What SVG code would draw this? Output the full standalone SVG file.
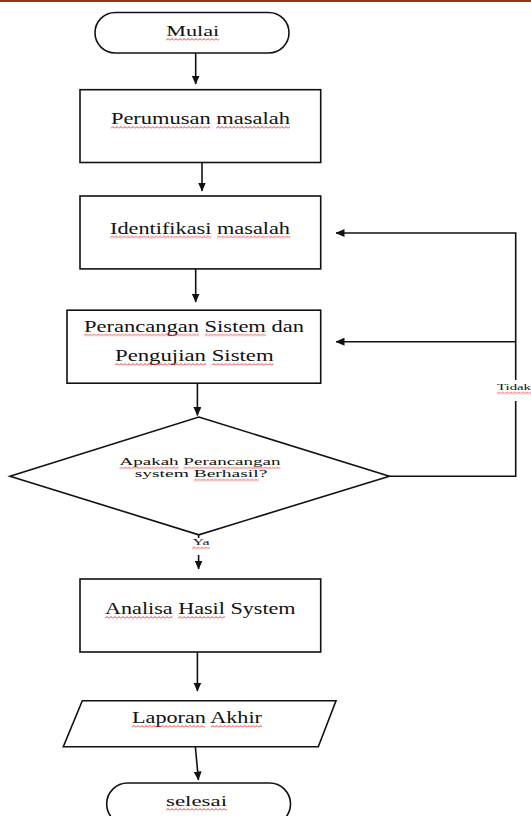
<svg xmlns="http://www.w3.org/2000/svg" width="531" height="816" viewBox="0 0 531 816">
<style>
  .shape { fill: #ffffff; stroke: #111111; stroke-width: 1.6; }
  .conn { fill: none; stroke: #111111; stroke-width: 1.6; }
  .t { font-family: "Liberation Serif", "Times New Roman", serif; fill: #111111; text-anchor: middle; }
  .big { font-size: 17.5px; }
  .mid { font-size: 15.5px; }
  .small { font-size: 10.5px; }
  .tiny { font-size: 8.5px; }
  .wave { fill: url(#wave); }
</style>
<defs>
  <marker id="arrow" markerUnits="userSpaceOnUse" markerWidth="9" markerHeight="8" refX="8.5" refY="4" orient="auto">
    <path d="M0,0 L9,4 L0,8 z" fill="#111111"/>
  </marker>
  <pattern id="wave" patternUnits="userSpaceOnUse" width="4" height="3">
    <path d="M0,2.5 L2,0.5 L4,2.5" fill="none" stroke="#e02020" stroke-width="0.9"/>
  </pattern>
</defs>

<rect x="0" y="0" width="531" height="2" fill="#8b3a0e"/>

<g id="connectors">
  <line class="conn" x1="195.7" y1="53" x2="195.7" y2="84" marker-end="url(#arrow)"/>
  <line class="conn" x1="202" y1="162.5" x2="202" y2="191" marker-end="url(#arrow)"/>
  <line class="conn" x1="195.7" y1="269" x2="195.7" y2="302" marker-end="url(#arrow)"/>
  <line class="conn" x1="197.4" y1="383" x2="197.4" y2="415.5" marker-end="url(#arrow)"/>
  <line class="conn" x1="198.6" y1="535" x2="198.6" y2="569" marker-end="url(#arrow)"/>
  <line class="conn" x1="197.4" y1="652" x2="197.4" y2="691" marker-end="url(#arrow)"/>
  <line class="conn" x1="195.4" y1="747" x2="198.4" y2="780" marker-end="url(#arrow)"/>
  <polyline class="conn" points="389.4,476.2 515.7,476.2 515.7,233 336,233" marker-end="url(#arrow)"/>
  <line class="conn" x1="515.7" y1="341.7" x2="336" y2="341.7" marker-end="url(#arrow)"/>
  <rect x="494" y="380" width="37" height="21" fill="#ffffff"/>
  <text class="t tiny" x="497" y="390" style="text-anchor:start" textLength="34" lengthAdjust="spacingAndGlyphs">Tidak</text>
  <rect x="188" y="538" width="26" height="17" fill="#ffffff"/>
  <text class="t tiny" x="201" y="545" textLength="17" lengthAdjust="spacingAndGlyphs">Ya</text>
</g>

<g id="mulai">
  <rect class="shape" x="95" y="12.5" width="194" height="40.5" rx="20.25"/>
  <text class="t mid" x="192.7" y="36" textLength="53" lengthAdjust="spacingAndGlyphs">Mulai</text>
</g>

<g id="perumusan">
  <rect class="shape" x="80" y="89.7" width="240.7" height="72.8"/>
  <text class="t big" x="200.4" y="124" textLength="179" lengthAdjust="spacingAndGlyphs">Perumusan masalah</text>
</g>

<g id="identifikasi">
  <rect class="shape" x="80" y="196" width="240.7" height="72.9"/>
  <text class="t big" x="200" y="233.5" textLength="180" lengthAdjust="spacingAndGlyphs">Identifikasi masalah</text>
</g>

<g id="perancangan">
  <rect class="shape" x="67" y="310.2" width="253.7" height="73"/>
  <text class="t big" x="194" y="331.5" textLength="220" lengthAdjust="spacingAndGlyphs">Perancangan Sistem dan</text>
  <text class="t big" x="194.3" y="361" textLength="158.6" lengthAdjust="spacingAndGlyphs">Pengujian Sistem</text>
</g>

<g id="keputusan">
  <polygon class="shape" points="198.8,417 389.4,476.2 198.8,534.8 10,476.2"/>
  <text class="t small" x="200" y="465" textLength="161" lengthAdjust="spacingAndGlyphs">Apakah Perancangan</text>
  <text class="t small" x="201" y="477" textLength="132.7" lengthAdjust="spacingAndGlyphs">system Berhasil?</text>
</g>

<g id="analisa">
  <rect class="shape" x="80" y="579" width="240.7" height="73"/>
  <text class="t big" x="200.3" y="614" textLength="190.6" lengthAdjust="spacingAndGlyphs">Analisa Hasil System</text>
</g>

<g id="laporan">
  <polygon class="shape" points="82.3,700.7 336,700.7 318.3,746.8 63.3,746.8"/>
  <text class="t big" x="197" y="723" textLength="130" lengthAdjust="spacingAndGlyphs">Laporan Akhir</text>
</g>

<g id="selesai">
  <rect class="shape" x="106.7" y="783" width="183.8" height="42" rx="21"/>
  <text class="t mid" x="196.5" y="806" textLength="61" lengthAdjust="spacingAndGlyphs">selesai</text>
</g>

<g id="spellcheck-underlines">
  <rect class="wave" transform="translate(166,38)" width="53.5" height="3"/>
  <rect class="wave" transform="translate(110.7,126)" width="99.8" height="3"/>
  <rect class="wave" transform="translate(216,126)" width="74" height="3"/>
  <rect class="wave" transform="translate(110,235.5)" width="101.4" height="3"/>
  <rect class="wave" transform="translate(217,235.5)" width="73.5" height="3"/>
  <rect class="wave" transform="translate(84,333.5)" width="115" height="3"/>
  <rect class="wave" transform="translate(204.6,333.5)" width="61.3" height="3"/>
  <rect class="wave" transform="translate(115,363)" width="91" height="3"/>
  <rect class="wave" transform="translate(211.7,363)" width="61.9" height="3"/>
  <rect class="wave" transform="translate(119.5,466.5)" width="59.1" height="3"/>
  <rect class="wave" transform="translate(183.4,466.5)" width="97" height="3"/>
  <rect class="wave" transform="translate(193.8,478.5)" width="65" height="3"/>
  <rect class="wave" transform="translate(192,546.5)" width="18" height="3"/>
  <rect class="wave" transform="translate(497,391.5)" width="34" height="3"/>
  <rect class="wave" transform="translate(105,616)" width="67.6" height="3"/>
  <rect class="wave" transform="translate(178.2,616)" width="46.7" height="3"/>
  <rect class="wave" transform="translate(132,725)" width="73.2" height="3"/>
  <rect class="wave" transform="translate(210.7,725)" width="51.3" height="3"/>
  <rect class="wave" transform="translate(166,808)" width="61" height="3"/>
</g>
</svg>
